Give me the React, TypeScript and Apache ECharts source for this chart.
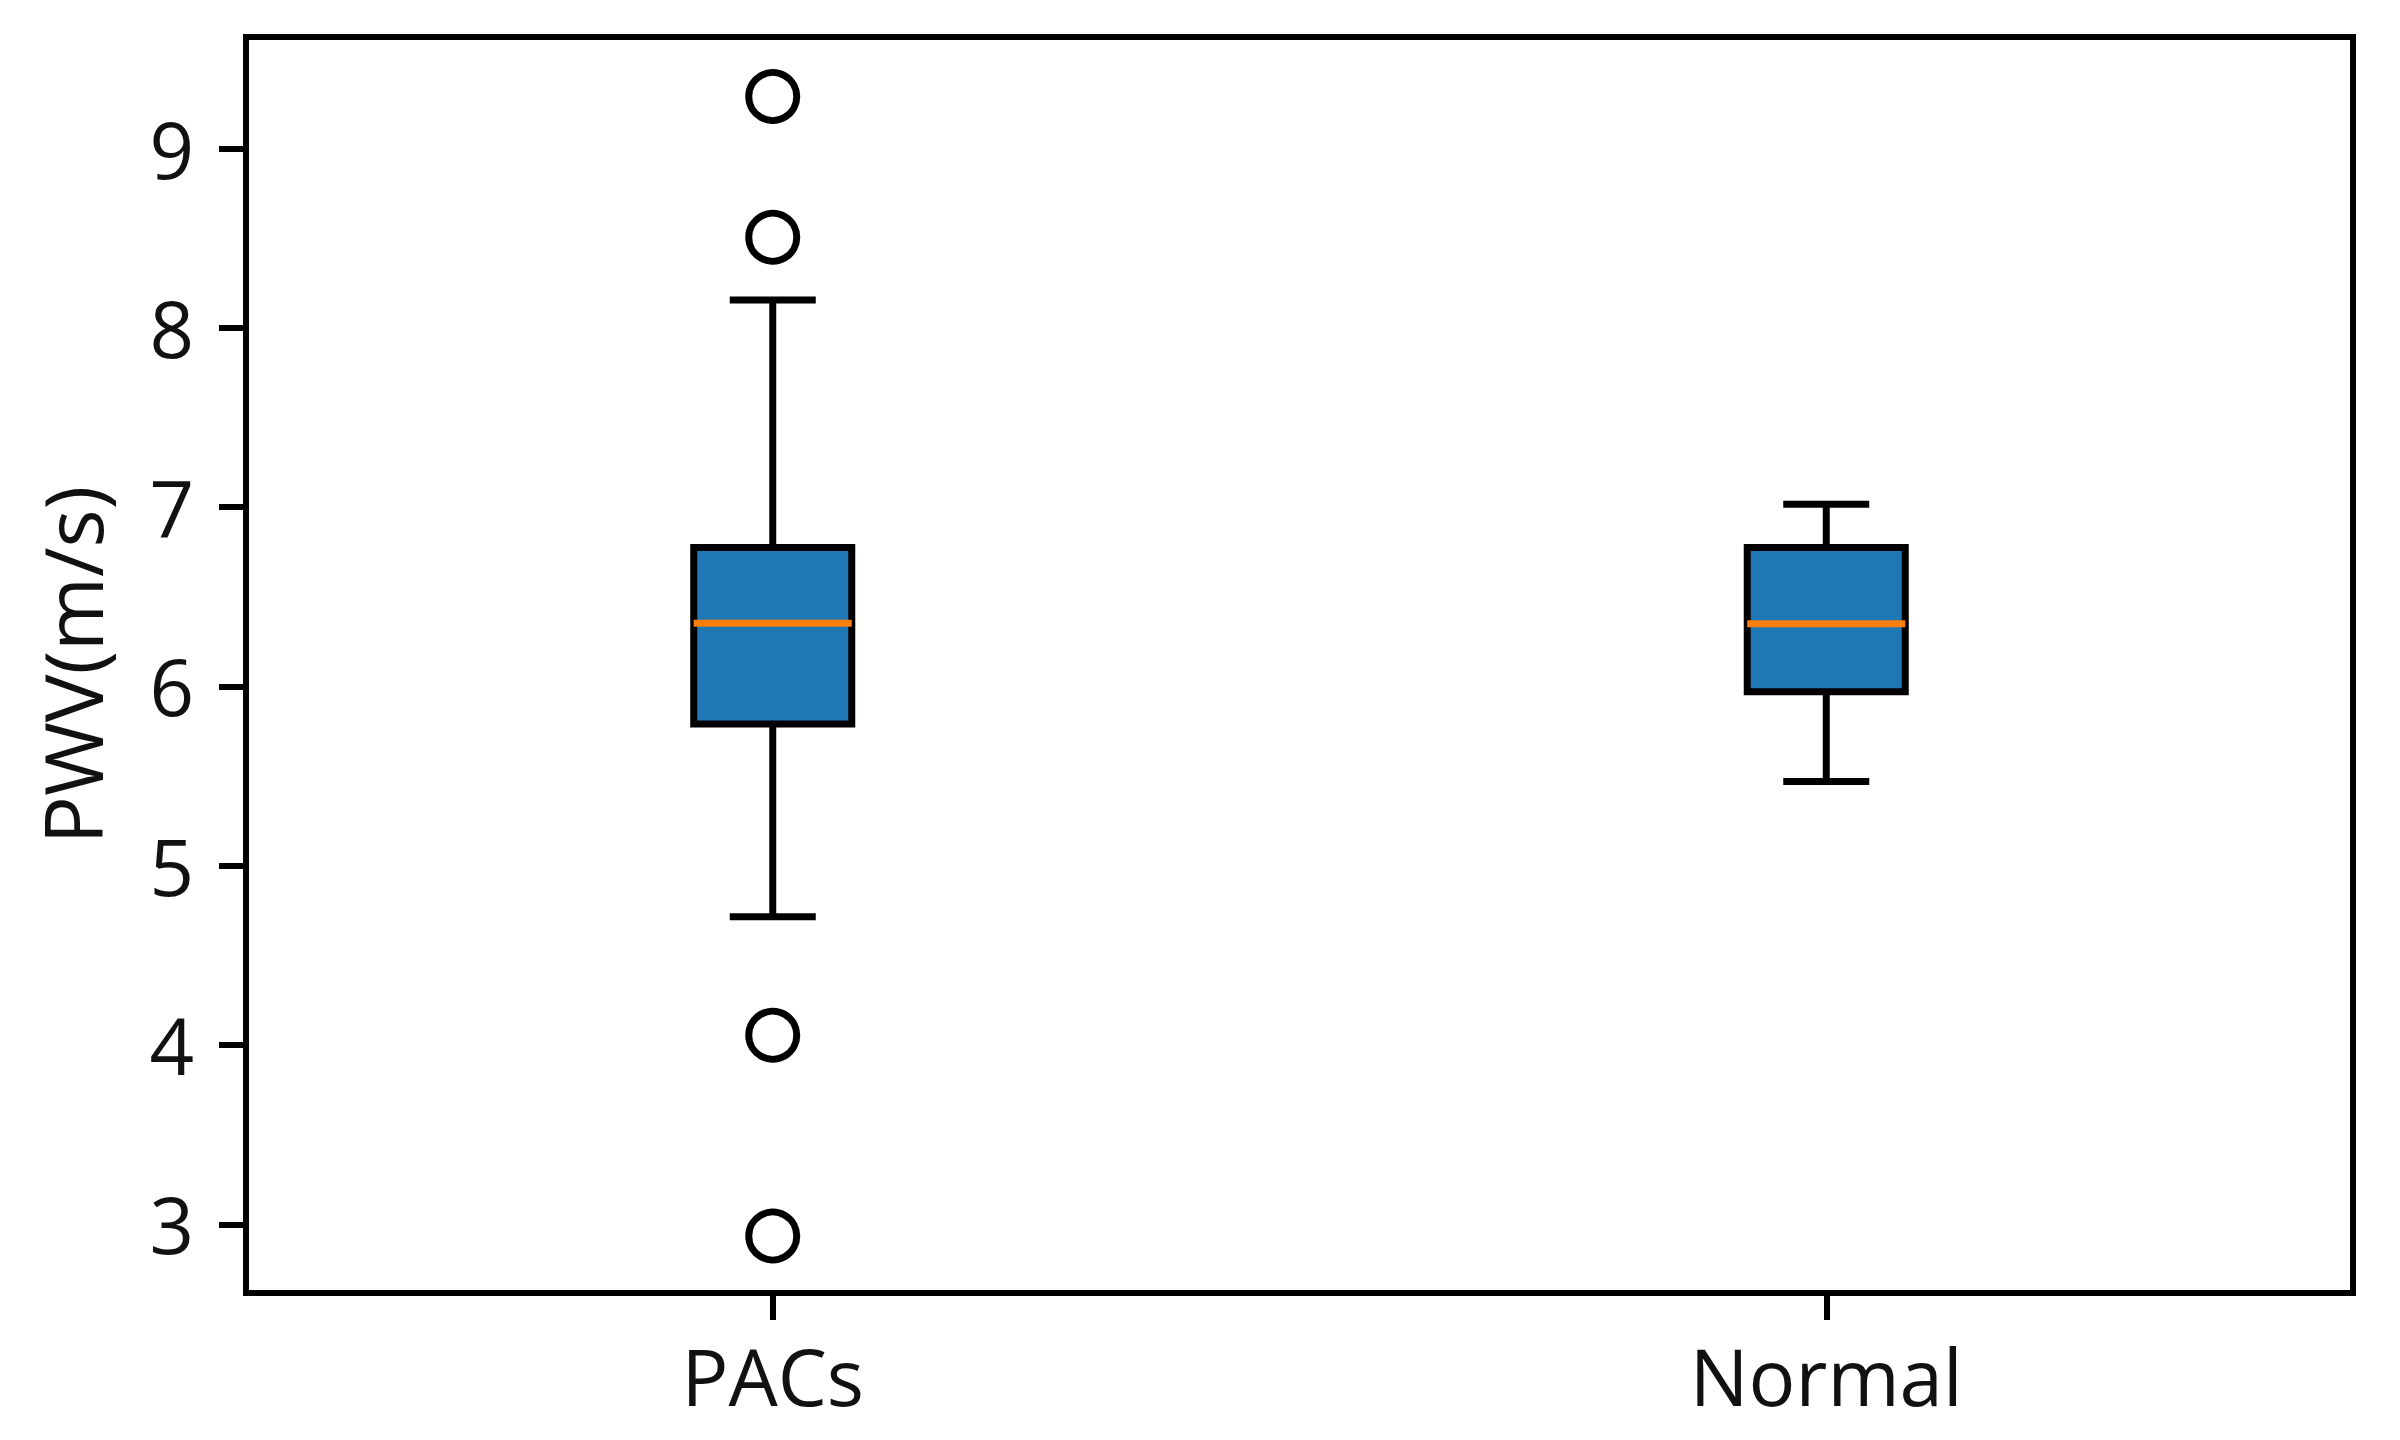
import React, { useEffect, useRef } from "react";
import * as echarts from "echarts";

const categories = ["PACs", "Normal"];
const whiskerLow = [4.715, 5.47];
const q1 = [5.79, 5.97];
const median = [6.352, 6.35];
const q3 = [6.775, 6.775];
const whiskerHigh = [8.155, 7.016];
const outliersPACs = [9.29, 8.505, 4.055, 2.935];
const outliersNormal: number[] = [];
const yTicks = [3, 4, 5, 6, 7, 8, 9];

const FONT = "Open Sans";
const LW = 7;

export default function App() {
  const ref = useRef<HTMLDivElement>(null);
  useEffect(() => {
    document.body.style.margin = "0";
    const chart = echarts.init(ref.current!, null, { renderer: "svg" });
    const boxData = categories.map((_, i) => [i, whiskerLow[i], q1[i], median[i], q3[i], whiskerHigh[i]]);
    const outlierData: number[][] = [];
    outliersPACs.forEach((v) => outlierData.push([0, v]));
    outliersNormal.forEach((v) => outlierData.push([1, v]));

    chart.setOption({
      animation: false,
      backgroundColor: "#fff",
      grid: {
        left: 246,
        right: 47,
        top: 37,
        bottom: 147,
        show: true,
        borderColor: "#000",
        borderWidth: 6,
        backgroundColor: "transparent",
      },
      xAxis: {
        type: "category",
        data: categories,
        boundaryGap: true,
        axisLine: { show: false },
        axisTick: { show: true, alignWithLabel: true, length: 27, lineStyle: { color: "#000", width: 6 } },
        axisLabel: { fontSize: 78, color: "#111", fontFamily: FONT, margin: 44 },
        splitLine: { show: false },
      },
      yAxis: {
        type: "value",
        min: 2.617,
        max: 9.622,
        name: "PWV(m/s)",
        nameLocation: "middle",
        nameRotate: 90,
        nameGap: 135,
        nameTextStyle: { fontSize: 80, color: "#111", fontFamily: FONT },
        axisLine: { show: false },
        axisTick: { show: true, length: 27, customValues: yTicks, lineStyle: { color: "#000", width: 6 } },
        axisLabel: { fontSize: 78, color: "#111", fontFamily: FONT, margin: 52, customValues: yTicks },
        splitLine: { show: false },
      },
      series: [
        {
          type: "custom",
          data: boxData,
          encode: { x: 0, y: [1, 2, 3, 4, 5] },
          renderItem: (params: any, api: any) => {
            const idx = api.value(0);
            const lo = api.coord([idx, api.value(1)]);
            const b1 = api.coord([idx, api.value(2)]);
            const md = api.coord([idx, api.value(3)]);
            const b3 = api.coord([idx, api.value(4)]);
            const hi = api.coord([idx, api.value(5)]);
            const band = api.size([1, 0])[0];
            const w = band * 0.15;
            const cw = w / 2;
            const cx = lo[0];
            const ls = { stroke: "#000", lineWidth: LW };
            return {
              type: "group",
              children: [
                { type: "line", shape: { x1: cx, y1: lo[1], x2: cx, y2: b1[1] }, style: ls },
                { type: "line", shape: { x1: cx, y1: b3[1], x2: cx, y2: hi[1] }, style: ls },
                { type: "line", shape: { x1: cx - cw / 2, y1: lo[1], x2: cx + cw / 2, y2: lo[1] }, style: { ...ls, lineCap: "square" } },
                { type: "line", shape: { x1: cx - cw / 2, y1: hi[1], x2: cx + cw / 2, y2: hi[1] }, style: { ...ls, lineCap: "square" } },
                {
                  type: "rect",
                  shape: { x: cx - w / 2, y: b3[1], width: w, height: b1[1] - b3[1] },
                  style: { fill: "#1f77b4", stroke: "#000", lineWidth: LW },
                },
                { type: "line", shape: { x1: cx - w / 2, y1: md[1], x2: cx + w / 2, y2: md[1] }, style: { stroke: "#ff7f0e", lineWidth: LW } },
              ],
            };
          },
          z: 2,
        },
        {
          type: "scatter",
          data: outlierData,
          symbol: "circle",
          symbolSize: 48,
          itemStyle: { color: "rgba(0,0,0,0)", borderColor: "#000", borderWidth: LW, opacity: 1 },
          z: 3,
        },
      ],
    });
    return () => chart.dispose();
  }, []);
  return <div ref={ref} style={{ position: "fixed", left: 0, top: 0, width: 2400, height: 1440 }} />;
}
